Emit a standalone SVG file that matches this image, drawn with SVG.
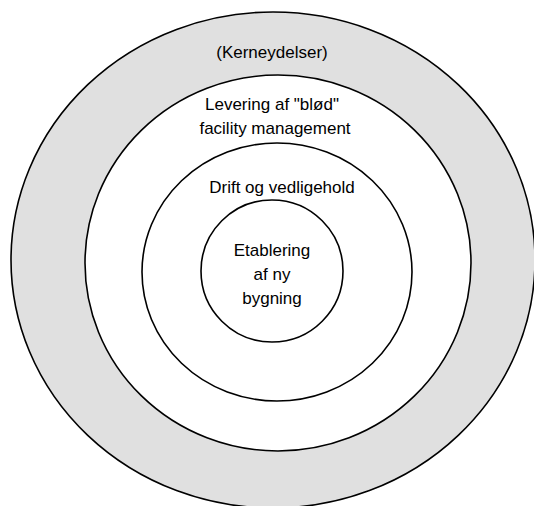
<svg xmlns="http://www.w3.org/2000/svg" width="534" height="506" viewBox="0 0 534 506">
<style>
.ring{stroke:#000;stroke-width:1.6}
.lbl{font-family:"Liberation Sans",Arial,sans-serif;font-size:17px;fill:#000;text-anchor:middle}
</style>
<rect width="534" height="506" fill="#fff"/>
<g id="kerneydelser">
<ellipse class="ring" cx="273" cy="260" rx="262" ry="248" fill="#e0e0e0" stroke-width="2"/>
<text class="lbl" x="272" y="58">(Kerneydelser)</text>
</g>
<g id="levering">
<ellipse class="ring" cx="278" cy="263" rx="193" ry="188" fill="#fff"/>
<text class="lbl" x="272" y="110">Levering af "blød"</text>
<text class="lbl" x="275" y="134">facility management</text>
</g>
<g id="drift">
<ellipse class="ring" cx="277" cy="272" rx="135" ry="129" fill="#fff"/>
<text class="lbl" x="282" y="193">Drift og vedligehold</text>
</g>
<g id="etablering">
<ellipse class="ring" cx="272" cy="271" rx="71" ry="71" fill="#fff"/>
<text class="lbl" x="272" y="256">Etablering</text>
<text class="lbl" x="272" y="280">af ny</text>
<text class="lbl" x="272" y="304">bygning</text>
</g>
<g id="connectors"/>
</svg>
